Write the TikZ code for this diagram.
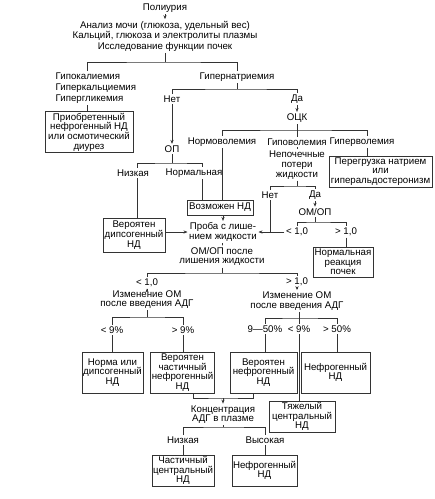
\documentclass[tikz,border=0pt]{standalone}
\usepackage{fontspec}
\setmainfont{Liberation Sans}
\usetikzlibrary{arrows.meta,calc}
\begin{document}
\begin{tikzpicture}[x=1pt,y=-1pt,
  every node/.style={font=\fontsize{9.7}{9.7}\selectfont, inner sep=1.5pt, align=center, text=black},
  ln/.style={draw=black!80, line width=0.75pt},
  arr/.style={ln, -{Stealth[length=4pt,width=3.2pt]}},
  bx/.style 2 args={draw=black!80, line width=0.75pt, minimum width=#1, minimum height=#2, inner sep=1pt},
]
\useasboundingbox (0,0) rectangle (435,499);

% top
\node (t0) at (165,8) {Полиурия};
\node[font=\fontsize{9.7}{10.5}\selectfont] (t1) at (165,36) {Анализ мочи (глюкоза, удельный вес)\\Кальций, глюкоза и электролиты плазмы\\Исследование функции почек};
\coordinate (j1) at (165,62);
\coordinate (k1) at (87,62);
\node[align=left, anchor=west, font=\fontsize{9.7}{11}\selectfont] (lst) at (54,88) {Гипокалиемия\\Гиперкальциемия\\Гипергликемия};
\node (hyp) at (237,77) {Гипернатриемия};
\draw[arr] (t0) -- (t1);
\draw[ln] (t1) -- (j1);
\draw[ln] (lst.north -| k1) |- (j1) -| (hyp.north);
\node[bx={88}{40}] (B1) at (89,132) {Приобретенный\\нефрогенный НД\\или осмотический\\диурез};
\draw[ln] (lst.south -| k1) -- (k1 |- B1.north);

% hypernatremia branch
\coordinate (j2) at (237,89);
\node (n1) at (172,99) {Нет};
\node (d1) at (297,99) {Да};
\draw[ln] (hyp) -- (j2);
\draw[ln] (n1.north) |- (j2) -| (d1.north);
\node (op) at (172,149) {ОП};
\draw[arr] (n1) -- (op);
\node (ock) at (297,118) {ОЦК};
\draw[arr] (d1) -- (ock);

\coordinate (j3) at (297,130);
\node (normo) at (222,142) {Нормоволемия};
\node (hypo) at (297,142) {Гиповолемия};
\node (hyperv) at (362,142) {Гиперволемия};
\coordinate (hvn) at ([xshift=5]hyperv.north);
\coordinate (hvs) at ([xshift=5]hyperv.south);
\draw[ln] (ock) -- (j3);
\draw[ln] (normo.north) |- (j3) -| (hvn);
\draw[ln] (j3) -- (hypo.north);
\node[bx={103}{31}] (B2) at (380.5,171.5) {Перегрузка натрием\\или\\гиперальдостеронизм};
\draw[ln] (hvs) -- (hvs |- B2.north);

\node (nep) at (297,165) {Непочечные\\потери\\жидкости};
\draw[ln] (hypo) -- (nep);
\coordinate (j4) at (297,186);
\node (n2) at (270,195) {Нет};
\node (d2) at (315,195) {Да};
\draw[ln] (nep) -- (j4);
\draw[ln] (n2.north) |- (j4) -| (d2.north);
\node (omop) at (315,212) {ОМ/ОП};
\draw[arr] (d2) -- (omop);
\coordinate (j5) at (315,222);
\node (lt1) at (297,232) {< 1,0};
\node (gt1) at (346,232) {> 1,0};
\draw[ln] (omop) -- (j5);
\draw[ln] (lt1.north) |- (j5) -| (gt1.north);
\node (proba) at (223,232) {Проба с лише-\\нием жидкости};
\draw[arr] (lt1.west) -- (proba.east |- lt1.west);
\draw[ln] (n2.south) -- (n2.south |- lt1.west);
\node[bx={60}{30}] (B5) at (343,262) {Нормальная\\реакция\\почек};
\draw[ln] (gt1.south) -- (gt1.south |- B5.north);

% OP branch
\coordinate (j6) at (172,163);
\node (nizk) at (133,173) {Низкая};
\node (norm) at (194,173) {Нормальная};
\coordinate (c1) at (137,0);
\coordinate (c2) at (202,0);
\draw[ln] (op) -- (j6);
\draw[ln] (nizk.north -| c1) |- (j6) -| (norm.north -| c2);
\node[bx={66}{15}] (B3) at (220,207.5) {Возможен НД};
\node[bx={62}{34}] (B4) at (134,235) {Вероятен\\дипсогенный\\НД};
\draw[ln] (nizk.south -| c1) -- (c1 |- B4.north);
\draw[ln] (norm.south -| c2) -- (c2 |- B3.north);
\draw[ln] (normo.south) -- (normo.south |- B3.north);
\draw[arr] (proba.north |- B3.south) -- (proba.north);
\draw[arr] (B4.east |- proba.west) -- (proba.west);

% water deprivation
\node (omop2) at (222,256.5) {ОМ/ОП после\\лишения жидкости};
\draw[ln] (proba) -- (omop2);
\coordinate (j7) at (222,273);
\node (lt2) at (147,283) {< 1,0};
\node (gt2) at (297,282) {> 1,0};
\draw[ln] (omop2) -- (j7);
\draw[ln] (lt2.north) |- (j7) -| (gt2.north);
\node (izm1) at (147,299.5) {Изменение ОМ\\после введения АДГ};
\node (izm2) at (297,301) {Изменение ОМ\\после введения АДГ};
\draw[arr] (lt2) -- (izm1);
\draw[arr] (gt2) -- (izm2);
\coordinate (j8) at (147,317);
\coordinate (j9) at (299,318);
\node (lt9) at (112,330) {< 9\%};
\node (gt9) at (183,330) {> 9\%};
\draw[ln] (izm1) -- (j8);
\draw[ln] (lt9.north) |- (j8) -| (gt9.north);
\node (p950) at (265,329) {9—50\%};
\node (lt9b) at (299,329) {< 9\%};
\node (gt50) at (337,329) {> 50\%};
\draw[ln] (izm2.south -| j9) -- (j9);
\draw[ln] (p950.north) |- (j9) -| (gt50.north);
\draw[ln] (j9) -- (lt9b.north);

\node[bx={61}{41}] (B6) at (112.5,372.5) {Норма или\\дипсогенный\\НД};
\node[bx={61}{41}] (B7) at (182.5,372.5) {Вероятен\\частичный\\нефрогенный\\НД};
\node[bx={67}{41}] (B8) at (263.5,372.5) {Вероятен\\нефрогенный\\НД};
\node[bx={69}{41}] (B9) at (335.5,372.5) {Нефрогенный\\НД};
\node[bx={66}{31}] (B10) at (302,416.5) {Тяжелый\\центральный\\НД};
\draw[ln] (lt9.south) -- (lt9.south |- B6.north);
\draw[ln] (gt9.south) -- (gt9.south |- B7.north);
\draw[ln] (p950.south) -- (p950.south |- B8.north);
\draw[ln] (gt50.south) -- (gt50.south |- B9.north);
\draw[ln] (lt9b.south) -- (lt9b.south |- B10.north);

\coordinate (j10) at (223,398);
\coordinate (c3) at (193,0);
\coordinate (c4) at (253,0);
\draw[ln] (c3 |- B7.south) |- (j10) -| (c4 |- B8.south);
\node (konc) at (223,414.5) {Концентрация\\АДГ в плазме};
\draw[arr] (j10) -- (konc);
\coordinate (j11) at (223,427);
\node (nizk2) at (183,440) {Низкая};
\node (vys) at (265,440) {Высокая};
\draw[ln] (konc) -- (j11);
\draw[ln] (nizk2.north) |- (j11) -| (vys.north);
\node[bx={60}{31}] (B11) at (183,470.5) {Частичный\\центральный\\НД};
\node[bx={65}{31}] (B12) at (264.5,470.5) {Нефрогенный\\НД};
\draw[ln] (nizk2.south) -- (nizk2.south |- B11.north);
\draw[ln] (vys.south) -- (vys.south |- B12.north);
\end{tikzpicture}
\end{document}
